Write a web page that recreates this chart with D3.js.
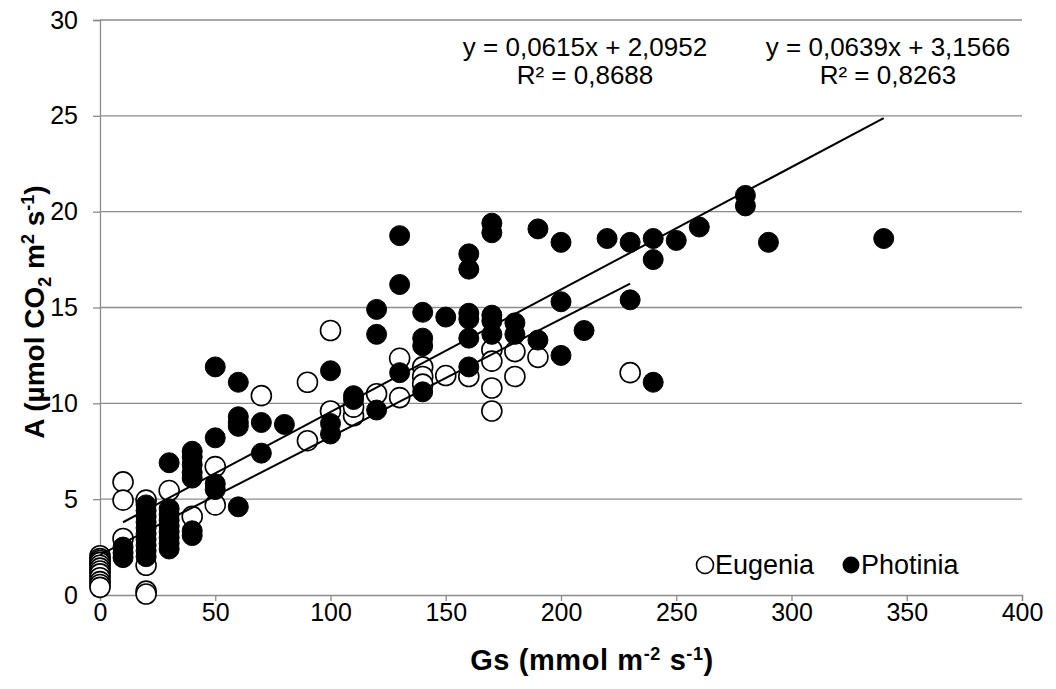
<!DOCTYPE html>
<html>
<head>
<meta charset="utf-8">
<script src="https://cdn.jsdelivr.net/npm/d3@7"></script>
<style>
  body { margin: 0; background: #fff; }
  text { font-family: "Liberation Sans", Arial, sans-serif; }
</style>
</head>
<body>
<svg id="chart" width="1056" height="689"></svg>
<script>
// ---- data ----
const xTicks = [0, 50, 100, 150, 200, 250, 300, 350, 400];
const yTicks = [0, 5, 10, 15, 20, 25, 30];

const eugeniaX = [0,0,0,0,0,0,0,0,0,0,0,0,
  10,10,10, 20,20,20,20, 30, 40, 50,50, 70, 90,90, 100,100, 110,110, 120,
  130,130, 140,140,140, 150, 160, 170,170,170,170, 180,180, 190, 230];
const eugeniaY = [2.05,1.9,1.8,1.7,1.55,1.4,1.25,1.1,0.9,0.7,0.55,0.4,
  5.9,4.95,2.95, 4.95,1.55,0.2,0.05, 5.45, 4.1, 6.7,4.7, 10.4, 11.1,8.05, 13.8,9.6, 9.35,9.8, 10.5,
  12.35,10.3, 11.9,11.4,11.0, 11.45, 11.4, 12.8,12.2,10.8,9.6, 12.7,11.4, 12.4, 11.6];

const photiniaX = [10,10,10,
  20,20,20,20,20,20,20,20,20,20,
  30,30,30,30,30,30,30,30,30,
  40,40,40,40,40,40,40,
  50,50,50,50,
  60,60,60,60,60,
  70,70, 80, 100,100,100, 110,110, 120,120,120, 130,130,130,
  140,140,140,140, 150, 160,160,160,160,160,160,
  170,170,170,170,170, 180,180, 190,190, 200,200,200, 210, 220,
  230,230, 240,240,240, 250, 260, 280,280, 290, 340];
const photiniaY = [2.5,2.2,1.95,
  4.7,4.4,4.1,3.8,3.5,3.2,2.9,2.6,2.3,2.0,
  6.9,4.5,4.2,3.9,3.6,3.3,3.0,2.7,2.4,
  7.5,7.2,6.8,6.4,6.1,3.35,3.1,
  11.9,8.2,5.8,5.5,
  11.1,9.3,9.0,8.8,4.6,
  9.0,7.4, 8.9, 11.7,8.95,8.4, 10.4,10.2, 14.9,13.6,9.65, 18.75,16.2,11.6,
  14.75,13.4,13.0,10.6, 14.5, 17.8,17.0,14.7,14.4,13.4,11.9,
  19.4,18.9,14.6,14.3,13.6, 14.2,13.6, 19.1,13.3, 18.4,15.3,12.5, 13.8, 18.6,
  18.4,15.4, 18.6,17.5,11.1, 18.5, 19.2, 20.85,20.3, 18.4, 18.6];

// trendline equations (from the chart labels)
const eugeniaFit = { slope: 0.0615, intercept: 2.0952, x0: 0, x1: 230, eq: "y = 0,0615x + 2,0952", r2: "R² = 0,8688" };
const photiniaFit = { slope: 0.0639, intercept: 3.1566, x0: 10, x1: 340, eq: "y = 0,0639x + 3,1566", r2: "R² = 0,8263" };

// ---- drawing ----
const svg = d3.select("#chart");
const x = d3.scaleLinear().domain([0, 400]).range([100, 1022]);
const y = d3.scaleLinear().domain([0, 30]).range([595, 20]);
const gridColor = "#8c8c8c";

// gridlines
svg.append("g").selectAll("line").data(yTicks.filter(d => d > 0)).join("line")
  .attr("x1", x(0)).attr("x2", x(400))
  .attr("y1", d => y(d)).attr("y2", d => y(d))
  .attr("stroke", gridColor).attr("stroke-width", 1.3);

// axes
const xAxis = d3.axisBottom(x).tickValues(xTicks).tickSize(6).tickPadding(2);
const yAxis = d3.axisLeft(y).tickValues(yTicks).tickSize(7).tickPadding(15);
const gx = svg.append("g").attr("transform", `translate(0,${y(0)})`).call(xAxis);
const gy = svg.append("g").attr("transform", `translate(${x(0)},0)`).call(yAxis);
[gx, gy].forEach(g => {
  g.select(".domain").attr("stroke", gridColor).attr("stroke-width", 1.3);
  g.selectAll(".tick line").attr("stroke", gridColor).attr("stroke-width", 1.3);
  g.selectAll(".tick text").attr("fill", "#000").style("font-size", "25px")
    .style("font-family", "'Liberation Sans', Arial, sans-serif");
});

// points
const r = 10;
const eug = eugeniaX.map((v, i) => ({ x: v, y: eugeniaY[i] }));
const pho = photiniaX.map((v, i) => ({ x: v, y: photiniaY[i] }));
svg.append("g").selectAll("circle").data(eug).join("circle")
  .attr("cx", d => x(d.x)).attr("cy", d => y(d.y)).attr("r", r)
  .attr("fill", "#fff").attr("stroke", "#000").attr("stroke-width", 1.6);
svg.append("g").selectAll("circle").data(pho).join("circle")
  .attr("cx", d => x(d.x)).attr("cy", d => y(d.y)).attr("r", r)
  .attr("fill", "#000").attr("stroke", "#000").attr("stroke-width", 1);

// trendlines
[eugeniaFit, photiniaFit].forEach(f => {
  svg.append("line")
    .attr("x1", x(f.x0)).attr("y1", y(f.slope * f.x0 + f.intercept))
    .attr("x2", x(f.x1)).attr("y2", y(f.slope * f.x1 + f.intercept))
    .attr("stroke", "#000").attr("stroke-width", 2);
});

// equations
const eqs = [{ f: eugeniaFit, cx: 585 }, { f: photiniaFit, cx: 888 }];
eqs.forEach(e => {
  svg.append("text").attr("x", e.cx).attr("y", 56).attr("text-anchor", "middle")
    .style("font-size", "26px").text(e.f.eq);
  svg.append("text").attr("x", e.cx).attr("y", 84).attr("text-anchor", "middle")
    .style("font-size", "26px").text(e.f.r2);
});

// legend
const lg = svg.append("g");
lg.append("circle").attr("cx", 705).attr("cy", 565).attr("r", 8.5)
  .attr("fill", "#fff").attr("stroke", "#000").attr("stroke-width", 1.6);
lg.append("text").attr("x", 715).attr("y", 574).style("font-size", "27px").text("Eugenia");
lg.append("circle").attr("cx", 851).attr("cy", 565).attr("r", 8.5).attr("fill", "#000");
lg.append("text").attr("x", 861).attr("y", 574).style("font-size", "27px").text("Photinia");

// axis titles
const xt = svg.append("text").attr("x", 592).attr("y", 670).attr("text-anchor", "middle")
  .style("font-size", "29px").style("font-weight", "bold").style("letter-spacing", "0.6px");
xt.append("tspan").text("Gs (mmol m");
xt.append("tspan").attr("dy", -10).style("font-size", "18px").text("-2");
xt.append("tspan").attr("dy", 10).text(" s");
xt.append("tspan").attr("dy", -10).style("font-size", "18px").text("-1");
xt.append("tspan").attr("dy", 10).text(")");

const yt = svg.append("text").attr("transform", "translate(44,312) rotate(-90)")
  .attr("text-anchor", "middle").style("font-size", "28px").style("font-weight", "bold");
yt.append("tspan").text("A (µmol CO");
yt.append("tspan").attr("dy", 7).style("font-size", "18px").text("2");
yt.append("tspan").attr("dy", -7).text(" m");
yt.append("tspan").attr("dy", -10).style("font-size", "18px").text("2");
yt.append("tspan").attr("dy", 10).text(" s");
yt.append("tspan").attr("dy", -10).style("font-size", "18px").text("-1");
yt.append("tspan").attr("dy", 10).text(")");
</script>
</body>
</html>
